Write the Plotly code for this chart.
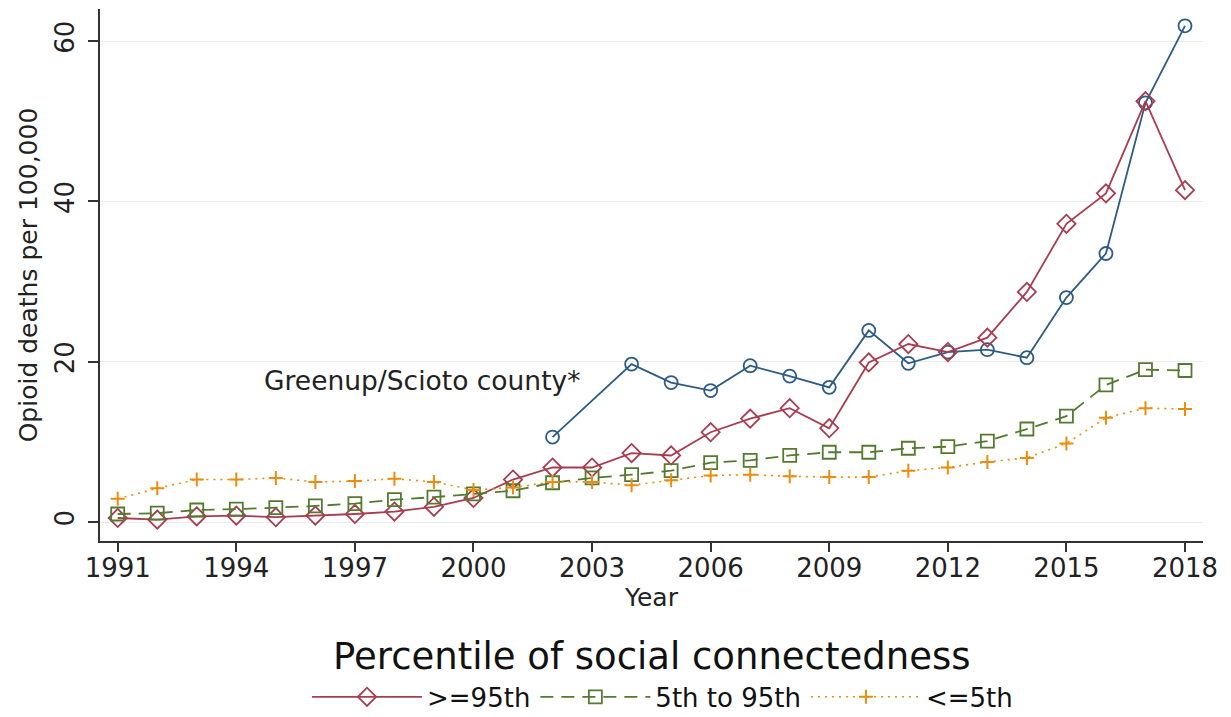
import plotly.graph_objects as go

years = list(range(1991, 2019))

high_95 = [0.5, 0.3, 0.7, 0.8, 0.6, 0.8, 1.0, 1.3, 1.9, 3.0, 5.3, 6.8, 6.8, 8.6,
           8.3, 11.2, 12.9, 14.2, 11.7, 19.9, 22.2, 21.2, 23.0, 28.7, 37.2, 41.0,
           52.5, 41.4]
mid_5_95 = [1.0, 1.1, 1.5, 1.6, 1.8, 2.0, 2.3, 2.8, 3.1, 3.5, 3.9, 4.9, 5.5, 5.9,
            6.4, 7.4, 7.7, 8.3, 8.7, 8.7, 9.2, 9.4, 10.1, 11.6, 13.2, 17.1, 19.0,
            18.9]
low_5 = [2.9, 4.2, 5.3, 5.3, 5.5, 5.0, 5.1, 5.4, 5.0, 4.0, 4.3, 5.0, 5.0, 4.6,
         5.2, 5.8, 5.9, 5.7, 5.6, 5.6, 6.4, 6.8, 7.5, 8.0, 9.8, 13.0, 14.2, 14.1]

county_years = [2002, 2004, 2005, 2006, 2007, 2008, 2009, 2010, 2011, 2012,
                2013, 2014, 2015, 2016, 2017, 2018]
county = [10.6, 19.7, 17.4, 16.4, 19.5, 18.2, 16.8, 23.9, 19.8, 21.2, 21.5,
          20.5, 28.0, 33.5, 52.3, 61.9]

x_ticks = [1991, 1994, 1997, 2000, 2003, 2006, 2009, 2012, 2015, 2018]
y_ticks = [0, 20, 40, 60]

RED = "#a83d50"
GREEN = "#537a2f"
ORANGE = "#ec8c0e"
BLUE = "#2c5b86"
FONT = "DejaVu Sans"

fig = go.Figure()

fig.add_trace(go.Scatter(
    x=county_years, y=county, mode="lines+markers", showlegend=False,
    name="Greenup/Scioto county*",
    line=dict(color=BLUE, width=1.8),
    marker=dict(symbol="circle-open", size=13, color=BLUE, line=dict(width=1.8, color=BLUE)),
))
fig.add_trace(go.Scatter(
    x=years, y=high_95, mode="lines+markers", name=">=95th",
    line=dict(color=RED, width=1.8),
    marker=dict(symbol="diamond-open", size=14, color=RED, line=dict(width=1.8, color=RED)),
))
fig.add_trace(go.Scatter(
    x=years, y=mid_5_95, mode="lines+markers", name="5th to 95th",
    line=dict(color=GREEN, width=1.8, dash="13px,8px"),
    marker=dict(symbol="square-open", size=13, color=GREEN, line=dict(width=1.8, color=GREEN)),
))
fig.add_trace(go.Scatter(
    x=years, y=low_5, mode="lines+markers", name="<=5th",
    line=dict(color=ORANGE, width=1.6, dash="2px,5px"),
    marker=dict(symbol="cross-thin-open", size=10, color=ORANGE, line=dict(width=2, color=ORANGE)),
))

fig.add_annotation(
    x=1998.7, y=17.7, xref="x", yref="y", text="Greenup/Scioto county*",
    showarrow=False, font=dict(family=FONT, size=26.5, color="#222222"),
    xanchor="center", yanchor="middle",
)

fig.add_annotation(
    x=0.5, y=-0.218, xref="paper", yref="paper", text="Percentile of social connectedness",
    showarrow=False, font=dict(family=FONT, size=37, color="#111111"),
    xanchor="center", yanchor="middle",
)

fig.update_layout(
    width=1231, height=717,
    margin=dict(l=100, r=28, t=9, b=176, autoexpand=False),
    paper_bgcolor="white", plot_bgcolor="white",
    font=dict(family=FONT, color="#222222"),
    legend=dict(
        orientation="h", x=0.51, xanchor="center", y=-0.293, yanchor="middle",
        font=dict(family=FONT, size=26, color="#111111"),
        itemwidth=110,
    ),
    xaxis=dict(
        range=[1990.552, 2018.455], tickvals=x_ticks,
        ticks="outside", ticklen=9, tickwidth=1.5, tickcolor="#333333",
        showline=True, linecolor="#333333", linewidth=1.5,
        showgrid=False, zeroline=False,
        tickfont=dict(family=FONT, size=26, color="#222222"),
        ticklabelstandoff=-6,
        title=dict(text="Year", font=dict(family=FONT, size=25, color="#222222"), standoff=4),
    ),
    yaxis=dict(
        range=[-2.37, 64.0], tickvals=y_ticks, tickangle=-90,
        ticks="outside", ticklen=10, tickwidth=1.5, tickcolor="#333333",
        showline=True, linecolor="#333333", linewidth=1.5,
        showgrid=True, gridcolor="#ebebeb", gridwidth=1, zeroline=False,
        tickfont=dict(family=FONT, size=26, color="#222222"),
        ticklabelstandoff=4,
        title=dict(text="Opioid deaths per 100,000", font=dict(family=FONT, size=25, color="#222222"), standoff=5),
    ),
)

fig.write_html("out.html")
